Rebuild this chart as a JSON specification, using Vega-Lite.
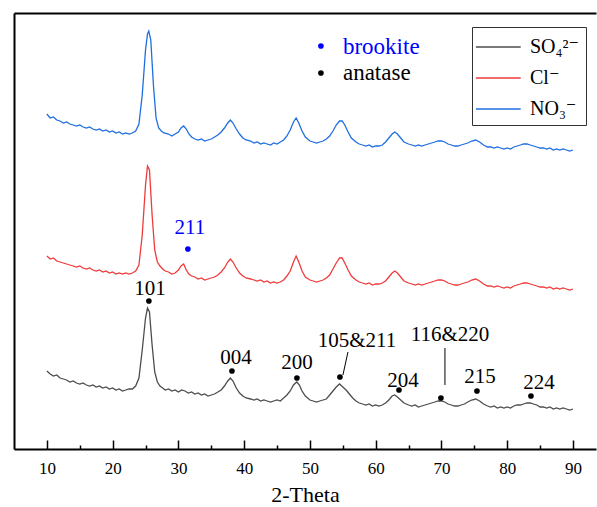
{
"$schema": "https://vega.github.io/schema/vega-lite/v6.json",
"width": 582, "height": 436,
"autosize": {"type": "none"},
"padding": {"left": 14, "top": 13, "right": 1, "bottom": 58},
"background": "white",
"config": {"view": {"stroke": null}, "font": "Liberation Serif, DejaVu Serif, serif", "axis": {"grid": false}},
"datasets": {
"xrd": [
{"t":10,"v":78,"s":"S"},{"t":10.5,"v":75,"s":"S"},{"t":11,"v":73,"s":"S"},{"t":11.5,"v":74,"s":"S"},{"t":12,"v":71,"s":"S"},{"t":12.5,"v":70,"s":"S"},{"t":13,"v":69,"s":"S"},{"t":13.5,"v":67,"s":"S"},{"t":14,"v":68,"s":"S"},{"t":14.5,"v":66,"s":"S"},{"t":15,"v":65,"s":"S"},{"t":15.5,"v":66,"s":"S"},{"t":16,"v":64,"s":"S"},{"t":16.5,"v":63,"s":"S"},{"t":17,"v":64,"s":"S"},{"t":17.5,"v":62,"s":"S"},{"t":18,"v":63,"s":"S"},{"t":18.5,"v":61,"s":"S"},{"t":19,"v":62,"s":"S"},{"t":19.5,"v":60,"s":"S"},{"t":20,"v":61,"s":"S"},{"t":20.5,"v":59,"s":"S"},{"t":21,"v":60,"s":"S"},{"t":21.5,"v":58,"s":"S"},{"t":22,"v":59,"s":"S"},{"t":22.5,"v":60,"s":"S"},{"t":23,"v":60,"s":"S"},{"t":23.5,"v":63,"s":"S"},{"t":24,"v":71,"s":"S"},{"t":24.5,"v":99,"s":"S"},{"t":25,"v":131,"s":"S"},{"t":25.3,"v":141,"s":"S"},{"t":25.6,"v":137,"s":"S"},{"t":26,"v":104,"s":"S"},{"t":26.4,"v":77,"s":"S"},{"t":26.8,"v":67,"s":"S"},{"t":27.2,"v":63,"s":"S"},{"t":27.6,"v":61,"s":"S"},{"t":28,"v":59,"s":"S"},{"t":28.5,"v":60,"s":"S"},{"t":29,"v":58,"s":"S"},{"t":29.5,"v":59,"s":"S"},{"t":30,"v":57,"s":"S"},{"t":30.5,"v":59,"s":"S"},{"t":31,"v":58,"s":"S"},{"t":31.5,"v":56,"s":"S"},{"t":32,"v":57,"s":"S"},{"t":32.5,"v":55,"s":"S"},{"t":33,"v":56,"s":"S"},{"t":33.5,"v":54,"s":"S"},{"t":34,"v":55,"s":"S"},{"t":34.5,"v":53,"s":"S"},{"t":35,"v":54,"s":"S"},{"t":35.5,"v":55,"s":"S"},{"t":36,"v":57,"s":"S"},{"t":36.5,"v":59,"s":"S"},{"t":37,"v":63,"s":"S"},{"t":37.5,"v":68,"s":"S"},{"t":37.9,"v":71,"s":"S"},{"t":38.3,"v":68,"s":"S"},{"t":38.8,"v":61,"s":"S"},{"t":39.3,"v":56,"s":"S"},{"t":39.8,"v":53,"s":"S"},{"t":40.3,"v":51,"s":"S"},{"t":41,"v":50,"s":"S"},{"t":41.5,"v":49,"s":"S"},{"t":42,"v":50,"s":"S"},{"t":42.5,"v":48,"s":"S"},{"t":43,"v":49,"s":"S"},{"t":43.5,"v":48,"s":"S"},{"t":44,"v":47,"s":"S"},{"t":44.5,"v":48,"s":"S"},{"t":45,"v":49,"s":"S"},{"t":45.5,"v":48,"s":"S"},{"t":46,"v":51,"s":"S"},{"t":46.5,"v":54,"s":"S"},{"t":47,"v":58,"s":"S"},{"t":47.5,"v":64,"s":"S"},{"t":48,"v":67,"s":"S"},{"t":48.4,"v":64,"s":"S"},{"t":48.8,"v":58,"s":"S"},{"t":49.3,"v":53,"s":"S"},{"t":50,"v":49,"s":"S"},{"t":50.5,"v":48,"s":"S"},{"t":51,"v":47,"s":"S"},{"t":51.5,"v":48,"s":"S"},{"t":52,"v":49,"s":"S"},{"t":52.5,"v":50,"s":"S"},{"t":53,"v":54,"s":"S"},{"t":53.5,"v":58,"s":"S"},{"t":54,"v":62,"s":"S"},{"t":54.5,"v":65,"s":"S"},{"t":55,"v":62,"s":"S"},{"t":55.5,"v":59,"s":"S"},{"t":56,"v":55,"s":"S"},{"t":56.5,"v":51,"s":"S"},{"t":57,"v":48,"s":"S"},{"t":57.5,"v":46,"s":"S"},{"t":58,"v":45,"s":"S"},{"t":58.5,"v":44,"s":"S"},{"t":59,"v":45,"s":"S"},{"t":59.5,"v":43,"s":"S"},{"t":60,"v":44,"s":"S"},{"t":60.5,"v":43,"s":"S"},{"t":61,"v":44,"s":"S"},{"t":61.5,"v":46,"s":"S"},{"t":62,"v":49,"s":"S"},{"t":62.5,"v":53,"s":"S"},{"t":62.9,"v":54,"s":"S"},{"t":63.3,"v":52,"s":"S"},{"t":63.8,"v":49,"s":"S"},{"t":64.3,"v":46,"s":"S"},{"t":65,"v":44,"s":"S"},{"t":65.5,"v":43,"s":"S"},{"t":66,"v":44,"s":"S"},{"t":66.5,"v":42,"s":"S"},{"t":67,"v":43,"s":"S"},{"t":67.5,"v":44,"s":"S"},{"t":68,"v":45,"s":"S"},{"t":68.5,"v":46,"s":"S"},{"t":69,"v":47,"s":"S"},{"t":69.5,"v":48,"s":"S"},{"t":70,"v":48,"s":"S"},{"t":70.5,"v":47,"s":"S"},{"t":71,"v":45,"s":"S"},{"t":71.5,"v":44,"s":"S"},{"t":72,"v":43,"s":"S"},{"t":72.5,"v":43,"s":"S"},{"t":73,"v":44,"s":"S"},{"t":73.5,"v":45,"s":"S"},{"t":74,"v":47,"s":"S"},{"t":74.6,"v":49,"s":"S"},{"t":75.2,"v":50,"s":"S"},{"t":75.8,"v":48,"s":"S"},{"t":76.4,"v":45,"s":"S"},{"t":77,"v":43,"s":"S"},{"t":77.5,"v":42,"s":"S"},{"t":78,"v":43,"s":"S"},{"t":78.5,"v":41,"s":"S"},{"t":79,"v":42,"s":"S"},{"t":79.5,"v":41,"s":"S"},{"t":80,"v":42,"s":"S"},{"t":80.5,"v":41,"s":"S"},{"t":81,"v":43,"s":"S"},{"t":81.5,"v":44,"s":"S"},{"t":82,"v":44,"s":"S"},{"t":82.5,"v":45,"s":"S"},{"t":83,"v":46,"s":"S"},{"t":83.5,"v":46,"s":"S"},{"t":84,"v":45,"s":"S"},{"t":84.5,"v":44,"s":"S"},{"t":85,"v":42,"s":"S"},{"t":85.5,"v":42,"s":"S"},{"t":86,"v":41,"s":"S"},{"t":86.5,"v":42,"s":"S"},{"t":87,"v":40,"s":"S"},{"t":87.5,"v":41,"s":"S"},{"t":88,"v":40,"s":"S"},{"t":88.5,"v":41,"s":"S"},{"t":89,"v":40,"s":"S"},{"t":89.5,"v":39,"s":"S"},{"t":90,"v":40,"s":"S"},
{"t":10,"v":193,"s":"C"},{"t":10.5,"v":190,"s":"C"},{"t":11,"v":191,"s":"C"},{"t":11.5,"v":188,"s":"C"},{"t":12,"v":187,"s":"C"},{"t":12.5,"v":186,"s":"C"},{"t":13,"v":185,"s":"C"},{"t":13.5,"v":184,"s":"C"},{"t":14,"v":183,"s":"C"},{"t":14.5,"v":182,"s":"C"},{"t":15,"v":183,"s":"C"},{"t":15.5,"v":181,"s":"C"},{"t":16,"v":180,"s":"C"},{"t":16.5,"v":181,"s":"C"},{"t":17,"v":179,"s":"C"},{"t":17.5,"v":178,"s":"C"},{"t":18,"v":179,"s":"C"},{"t":18.5,"v":177,"s":"C"},{"t":19,"v":178,"s":"C"},{"t":19.5,"v":176,"s":"C"},{"t":20,"v":177,"s":"C"},{"t":20.5,"v":175,"s":"C"},{"t":21,"v":176,"s":"C"},{"t":21.5,"v":175,"s":"C"},{"t":22,"v":176,"s":"C"},{"t":22.5,"v":175,"s":"C"},{"t":23,"v":176,"s":"C"},{"t":23.5,"v":178,"s":"C"},{"t":24,"v":184,"s":"C"},{"t":24.5,"v":214,"s":"C"},{"t":25,"v":264,"s":"C"},{"t":25.3,"v":283,"s":"C"},{"t":25.6,"v":279,"s":"C"},{"t":26,"v":234,"s":"C"},{"t":26.4,"v":199,"s":"C"},{"t":26.8,"v":187,"s":"C"},{"t":27.2,"v":183,"s":"C"},{"t":27.6,"v":180,"s":"C"},{"t":28,"v":178,"s":"C"},{"t":28.5,"v":177,"s":"C"},{"t":29,"v":175,"s":"C"},{"t":29.5,"v":176,"s":"C"},{"t":30,"v":179,"s":"C"},{"t":30.4,"v":183,"s":"C"},{"t":30.8,"v":185,"s":"C"},{"t":31.2,"v":179,"s":"C"},{"t":31.6,"v":175,"s":"C"},{"t":32,"v":173,"s":"C"},{"t":32.5,"v":172,"s":"C"},{"t":33,"v":170,"s":"C"},{"t":33.5,"v":171,"s":"C"},{"t":34,"v":169,"s":"C"},{"t":34.5,"v":170,"s":"C"},{"t":35,"v":171,"s":"C"},{"t":35.5,"v":172,"s":"C"},{"t":36,"v":174,"s":"C"},{"t":36.5,"v":177,"s":"C"},{"t":37,"v":181,"s":"C"},{"t":37.5,"v":187,"s":"C"},{"t":37.9,"v":190,"s":"C"},{"t":38.3,"v":187,"s":"C"},{"t":38.8,"v":181,"s":"C"},{"t":39.3,"v":176,"s":"C"},{"t":39.8,"v":173,"s":"C"},{"t":40.3,"v":171,"s":"C"},{"t":41,"v":170,"s":"C"},{"t":41.5,"v":169,"s":"C"},{"t":42,"v":168,"s":"C"},{"t":42.5,"v":169,"s":"C"},{"t":43,"v":167,"s":"C"},{"t":43.5,"v":168,"s":"C"},{"t":44,"v":166,"s":"C"},{"t":44.5,"v":167,"s":"C"},{"t":45,"v":166,"s":"C"},{"t":45.5,"v":167,"s":"C"},{"t":46,"v":169,"s":"C"},{"t":46.5,"v":173,"s":"C"},{"t":47,"v":178,"s":"C"},{"t":47.5,"v":187,"s":"C"},{"t":47.9,"v":193,"s":"C"},{"t":48.3,"v":187,"s":"C"},{"t":48.8,"v":178,"s":"C"},{"t":49.3,"v":172,"s":"C"},{"t":50,"v":169,"s":"C"},{"t":50.5,"v":168,"s":"C"},{"t":51,"v":167,"s":"C"},{"t":51.5,"v":168,"s":"C"},{"t":52,"v":169,"s":"C"},{"t":52.5,"v":171,"s":"C"},{"t":53,"v":174,"s":"C"},{"t":53.5,"v":180,"s":"C"},{"t":54,"v":186,"s":"C"},{"t":54.5,"v":191,"s":"C"},{"t":54.9,"v":191,"s":"C"},{"t":55.3,"v":186,"s":"C"},{"t":55.8,"v":179,"s":"C"},{"t":56.3,"v":173,"s":"C"},{"t":57,"v":169,"s":"C"},{"t":57.5,"v":167,"s":"C"},{"t":58,"v":166,"s":"C"},{"t":58.5,"v":165,"s":"C"},{"t":59,"v":166,"s":"C"},{"t":59.5,"v":164,"s":"C"},{"t":60,"v":165,"s":"C"},{"t":60.5,"v":165,"s":"C"},{"t":61,"v":166,"s":"C"},{"t":61.5,"v":168,"s":"C"},{"t":62,"v":172,"s":"C"},{"t":62.5,"v":176,"s":"C"},{"t":62.9,"v":178,"s":"C"},{"t":63.3,"v":176,"s":"C"},{"t":63.8,"v":172,"s":"C"},{"t":64.3,"v":168,"s":"C"},{"t":65,"v":166,"s":"C"},{"t":65.5,"v":165,"s":"C"},{"t":66,"v":164,"s":"C"},{"t":66.5,"v":165,"s":"C"},{"t":67,"v":164,"s":"C"},{"t":67.5,"v":165,"s":"C"},{"t":68,"v":166,"s":"C"},{"t":68.5,"v":167,"s":"C"},{"t":69,"v":168,"s":"C"},{"t":69.5,"v":169,"s":"C"},{"t":70,"v":169,"s":"C"},{"t":70.5,"v":168,"s":"C"},{"t":71,"v":166,"s":"C"},{"t":71.5,"v":165,"s":"C"},{"t":72,"v":164,"s":"C"},{"t":72.5,"v":164,"s":"C"},{"t":73,"v":165,"s":"C"},{"t":73.5,"v":166,"s":"C"},{"t":74,"v":167,"s":"C"},{"t":74.6,"v":169,"s":"C"},{"t":75.2,"v":170,"s":"C"},{"t":75.8,"v":168,"s":"C"},{"t":76.4,"v":165,"s":"C"},{"t":77,"v":163,"s":"C"},{"t":77.5,"v":163,"s":"C"},{"t":78,"v":162,"s":"C"},{"t":78.5,"v":163,"s":"C"},{"t":79,"v":162,"s":"C"},{"t":79.5,"v":161,"s":"C"},{"t":80,"v":162,"s":"C"},{"t":80.5,"v":161,"s":"C"},{"t":81,"v":163,"s":"C"},{"t":81.5,"v":164,"s":"C"},{"t":82,"v":165,"s":"C"},{"t":82.5,"v":166,"s":"C"},{"t":83,"v":166,"s":"C"},{"t":83.5,"v":165,"s":"C"},{"t":84,"v":164,"s":"C"},{"t":84.5,"v":163,"s":"C"},{"t":85,"v":162,"s":"C"},{"t":85.5,"v":162,"s":"C"},{"t":86,"v":161,"s":"C"},{"t":86.5,"v":162,"s":"C"},{"t":87,"v":160,"s":"C"},{"t":87.5,"v":161,"s":"C"},{"t":88,"v":160,"s":"C"},{"t":88.5,"v":161,"s":"C"},{"t":89,"v":160,"s":"C"},{"t":89.5,"v":159,"s":"C"},{"t":90,"v":160,"s":"C"},
{"t":10,"v":335,"s":"N"},{"t":10.5,"v":331,"s":"N"},{"t":11,"v":332,"s":"N"},{"t":11.5,"v":329,"s":"N"},{"t":12,"v":328,"s":"N"},{"t":12.5,"v":326,"s":"N"},{"t":13,"v":327,"s":"N"},{"t":13.5,"v":325,"s":"N"},{"t":14,"v":324,"s":"N"},{"t":14.5,"v":323,"s":"N"},{"t":15,"v":324,"s":"N"},{"t":15.5,"v":322,"s":"N"},{"t":16,"v":321,"s":"N"},{"t":16.5,"v":322,"s":"N"},{"t":17,"v":320,"s":"N"},{"t":17.5,"v":319,"s":"N"},{"t":18,"v":320,"s":"N"},{"t":18.5,"v":318,"s":"N"},{"t":19,"v":319,"s":"N"},{"t":19.5,"v":317,"s":"N"},{"t":20,"v":318,"s":"N"},{"t":20.5,"v":316,"s":"N"},{"t":21,"v":317,"s":"N"},{"t":21.5,"v":315,"s":"N"},{"t":22,"v":316,"s":"N"},{"t":22.5,"v":315,"s":"N"},{"t":23,"v":316,"s":"N"},{"t":23.5,"v":318,"s":"N"},{"t":24,"v":325,"s":"N"},{"t":24.5,"v":354,"s":"N"},{"t":25,"v":399,"s":"N"},{"t":25.3,"v":415,"s":"N"},{"t":25.5,"v":418,"s":"N"},{"t":25.8,"v":409,"s":"N"},{"t":26.2,"v":364,"s":"N"},{"t":26.6,"v":331,"s":"N"},{"t":27,"v":321,"s":"N"},{"t":27.4,"v":318,"s":"N"},{"t":27.8,"v":316,"s":"N"},{"t":28.5,"v":315,"s":"N"},{"t":29,"v":313,"s":"N"},{"t":29.5,"v":315,"s":"N"},{"t":30,"v":317,"s":"N"},{"t":30.4,"v":321,"s":"N"},{"t":30.8,"v":323,"s":"N"},{"t":31.2,"v":320,"s":"N"},{"t":31.6,"v":315,"s":"N"},{"t":32,"v":312,"s":"N"},{"t":32.5,"v":310,"s":"N"},{"t":33,"v":309,"s":"N"},{"t":33.5,"v":310,"s":"N"},{"t":34,"v":308,"s":"N"},{"t":34.5,"v":309,"s":"N"},{"t":35,"v":310,"s":"N"},{"t":35.5,"v":312,"s":"N"},{"t":36,"v":314,"s":"N"},{"t":36.5,"v":317,"s":"N"},{"t":37,"v":321,"s":"N"},{"t":37.5,"v":326,"s":"N"},{"t":37.9,"v":329,"s":"N"},{"t":38.3,"v":326,"s":"N"},{"t":38.8,"v":320,"s":"N"},{"t":39.3,"v":315,"s":"N"},{"t":39.8,"v":311,"s":"N"},{"t":40.3,"v":309,"s":"N"},{"t":41,"v":308,"s":"N"},{"t":41.5,"v":306,"s":"N"},{"t":42,"v":307,"s":"N"},{"t":42.5,"v":305,"s":"N"},{"t":43,"v":306,"s":"N"},{"t":43.5,"v":305,"s":"N"},{"t":44,"v":304,"s":"N"},{"t":44.5,"v":306,"s":"N"},{"t":45,"v":305,"s":"N"},{"t":45.5,"v":307,"s":"N"},{"t":46,"v":309,"s":"N"},{"t":46.5,"v":313,"s":"N"},{"t":47,"v":319,"s":"N"},{"t":47.5,"v":327,"s":"N"},{"t":47.9,"v":331,"s":"N"},{"t":48.3,"v":326,"s":"N"},{"t":48.8,"v":318,"s":"N"},{"t":49.3,"v":312,"s":"N"},{"t":50,"v":308,"s":"N"},{"t":50.5,"v":307,"s":"N"},{"t":51,"v":306,"s":"N"},{"t":51.5,"v":307,"s":"N"},{"t":52,"v":308,"s":"N"},{"t":52.5,"v":310,"s":"N"},{"t":53,"v":313,"s":"N"},{"t":53.5,"v":318,"s":"N"},{"t":54,"v":324,"s":"N"},{"t":54.5,"v":328,"s":"N"},{"t":54.9,"v":328,"s":"N"},{"t":55.3,"v":324,"s":"N"},{"t":55.8,"v":317,"s":"N"},{"t":56.3,"v":311,"s":"N"},{"t":57,"v":307,"s":"N"},{"t":57.5,"v":305,"s":"N"},{"t":58,"v":304,"s":"N"},{"t":58.5,"v":303,"s":"N"},{"t":59,"v":304,"s":"N"},{"t":59.5,"v":302,"s":"N"},{"t":60,"v":303,"s":"N"},{"t":60.5,"v":303,"s":"N"},{"t":61,"v":304,"s":"N"},{"t":61.5,"v":307,"s":"N"},{"t":62,"v":311,"s":"N"},{"t":62.5,"v":315,"s":"N"},{"t":62.9,"v":317,"s":"N"},{"t":63.3,"v":315,"s":"N"},{"t":63.8,"v":311,"s":"N"},{"t":64.3,"v":307,"s":"N"},{"t":65,"v":305,"s":"N"},{"t":65.5,"v":304,"s":"N"},{"t":66,"v":303,"s":"N"},{"t":66.5,"v":304,"s":"N"},{"t":67,"v":303,"s":"N"},{"t":67.5,"v":304,"s":"N"},{"t":68,"v":305,"s":"N"},{"t":68.5,"v":306,"s":"N"},{"t":69,"v":307,"s":"N"},{"t":69.5,"v":308,"s":"N"},{"t":70,"v":308,"s":"N"},{"t":70.5,"v":307,"s":"N"},{"t":71,"v":305,"s":"N"},{"t":71.5,"v":304,"s":"N"},{"t":72,"v":303,"s":"N"},{"t":72.5,"v":303,"s":"N"},{"t":73,"v":304,"s":"N"},{"t":73.5,"v":305,"s":"N"},{"t":74,"v":306,"s":"N"},{"t":74.6,"v":308,"s":"N"},{"t":75.2,"v":309,"s":"N"},{"t":75.8,"v":307,"s":"N"},{"t":76.4,"v":304,"s":"N"},{"t":77,"v":302,"s":"N"},{"t":77.5,"v":302,"s":"N"},{"t":78,"v":301,"s":"N"},{"t":78.5,"v":302,"s":"N"},{"t":79,"v":301,"s":"N"},{"t":79.5,"v":300,"s":"N"},{"t":80,"v":301,"s":"N"},{"t":80.5,"v":300,"s":"N"},{"t":81,"v":302,"s":"N"},{"t":81.5,"v":303,"s":"N"},{"t":82,"v":304,"s":"N"},{"t":82.5,"v":305,"s":"N"},{"t":83,"v":305,"s":"N"},{"t":83.5,"v":304,"s":"N"},{"t":84,"v":303,"s":"N"},{"t":84.5,"v":302,"s":"N"},{"t":85,"v":301,"s":"N"},{"t":85.5,"v":301,"s":"N"},{"t":86,"v":300,"s":"N"},{"t":86.5,"v":301,"s":"N"},{"t":87,"v":299,"s":"N"},{"t":87.5,"v":300,"s":"N"},{"t":88,"v":299,"s":"N"},{"t":88.5,"v":300,"s":"N"},{"t":89,"v":299,"s":"N"},{"t":89.5,"v":298,"s":"N"},{"t":90,"v":299,"s":"N"}
],
"dots": [
{"t":25.51,"v":148,"c":"black"},{"t":38.14,"v":78,"c":"black"},{"t":48.02,"v":71,"c":"black"},{"t":54.56,"v":72,"c":"black"},{"t":63.54,"v":59,"c":"black"},{"t":69.92,"v":51,"c":"black"},{"t":75.4,"v":58,"c":"black"},{"t":83.61,"v":53,"c":"black"},{"t":31.44,"v":200,"c":"blue"},{"t":51.67,"v":403,"c":"blue"},{"t":51.67,"v":376,"c":"black"}
],
"peaks": [
{"t":25.67,"v":160,"label":"101","c":"black"},{"t":38.75,"v":91,"label":"004","c":"black"},{"t":48.02,"v":86,"label":"200","c":"black"},{"t":57.15,"v":108,"label":"105&211","c":"black"},{"t":71.29,"v":114,"label":"116&220","c":"black"},{"t":64.14,"v":68,"label":"204","c":"black"},{"t":75.86,"v":72,"label":"215","c":"black"},{"t":84.83,"v":66,"label":"224","c":"black"},{"t":31.75,"v":221,"label":"211","c":"blue"}
],
"keys": [
{"t":55.02,"v":402,"label":"brookite","c":"blue"},{"t":55.02,"v":376,"label":"anatase","c":"black"}
],
"leaders": [
{"t":55.78,"v":97,"t2":55.02,"v2":74},{"t":70.53,"v":101,"t2":70.53,"v2":64}
]
},
"layer": [
{"data": {"name": "xrd"}, "mark": {"type": "line", "strokeWidth": 1.3},
 "encoding": {
  "x": {"field": "t", "type": "quantitative", "scale": {"domain": [5, 93.5], "nice": false, "zero": false},
   "axis": {"orient": "bottom", "values": [10,20,30,40,50,60,70,80,90], "tickSize": -9, "tickWidth": 1.5, "tickColor": "black", "domainColor": "black", "domainWidth": 2, "labelFontSize": 17, "labelColor": "black", "labelPadding": 20, "title": "2-Theta", "titleFontSize": 22, "titleFontWeight": "normal", "titleColor": "black", "titlePadding": 8}},
  "y": {"field": "v", "type": "quantitative", "scale": {"domain": [0, 436], "nice": false, "zero": false},
   "axis": {"orient": "left", "title": null, "labels": false, "ticks": false, "domainColor": "black", "domainWidth": 2}},
  "color": {"field": "s", "type": "nominal", "scale": {"domain": ["S", "C", "N"], "range": ["#4d4d4d", "#ef3b3b", "#1f6ee0"]},
   "legend": {"title": null, "orient": "none", "legendX": 458, "legendY": 14, "symbolType": "M-1.15,-0.045H2.05V0.045H-1.15Z", "symbolSize": 784, "symbolStrokeWidth": 0, "labelFontSize": 20, "labelColor": "black", "strokeColor": "#333", "fillColor": "white", "padding": 6, "rowPadding": 7, "labelOffset": 24,
    "labelExpr": "datum.label == 'S' ? 'SO₄²⁻' : datum.label == 'C' ? 'Cl⁻' : 'NO₃⁻'",
    "encode": {"symbols": {"update": {"fill": {"scale": "color", "field": "value"}, "fillOpacity": {"value": 1}, "strokeWidth": {"value": 0}}}}}}
 }},
{"data": {"name": "dots"}, "mark": {"type": "point", "filled": true, "size": 32, "opacity": 1},
 "encoding": {
  "x": {"field": "t", "type": "quantitative", "axis": {"orient": "bottom", "values": [15,25,35,45,55,65,75,85], "tickSize": -4, "tickWidth": 1.5, "tickColor": "black", "labels": false, "domain": false, "title": null}},
  "y": {"field": "v", "type": "quantitative", "axis": null},
  "color": {"field": "c", "type": "nominal", "scale": null}
 }},
{"data": {"name": "peaks"}, "mark": {"type": "text", "fontSize": 21, "align": "center", "baseline": "middle"},
 "encoding": {
  "x": {"field": "t", "type": "quantitative", "axis": {"orient": "top", "ticks": false, "labels": false, "domain": true, "domainColor": "black", "domainWidth": 2, "title": null}},
  "y": {"field": "v", "type": "quantitative", "axis": null},
  "text": {"field": "label"},
  "color": {"field": "c", "type": "nominal", "scale": null}
 }},
{"data": {"name": "keys"}, "mark": {"type": "text", "fontSize": 23, "align": "left", "baseline": "middle"},
 "encoding": {
  "x": {"field": "t", "type": "quantitative", "axis": null},
  "y": {"field": "v", "type": "quantitative", "axis": null},
  "text": {"field": "label"},
  "color": {"field": "c", "type": "nominal", "scale": null}
 }},
{"data": {"name": "leaders"}, "mark": {"type": "rule", "color": "black", "strokeWidth": 1},
 "encoding": {
  "x": {"field": "t", "type": "quantitative", "axis": null},
  "y": {"field": "v", "type": "quantitative", "axis": null},
  "x2": {"field": "t2"},
  "y2": {"field": "v2"}
 }}
],
"resolve": {"axis": {"x": "independent", "y": "independent"}}
}
